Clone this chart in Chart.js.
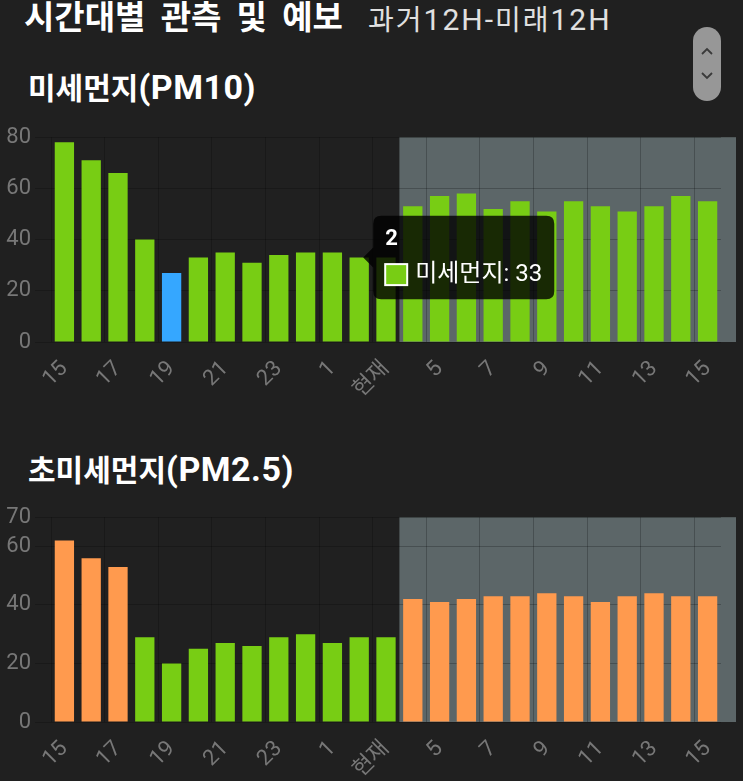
<!DOCTYPE html>
<html><head><meta charset="utf-8">
<script src="https://cdn.jsdelivr.net/npm/chart.js@4"></script>
<style>
html,body{margin:0;padding:0;background:#202020;width:743px;height:781px;overflow:hidden;font-family:Roboto,'Noto Sans CJK KR',sans-serif;}
.abs{position:absolute;white-space:nowrap;}
#title{left:24px;top:1px;font-size:33px;line-height:34px;font-weight:bold;color:#fff;word-spacing:7px;}
#range{left:368px;top:6px;font-size:28px;line-height:28px;color:#e0e0e0;letter-spacing:2px;}
#range .lat{font-size:30px;}
.sub{left:28px;font-size:30px;line-height:32px;font-weight:bold;color:#fff;}
.sub .lat{font-size:34px;letter-spacing:0.5px;}
#btn{left:693px;top:27px;width:28px;height:74px;border-radius:14px;background:#979797;}
.wrap{position:absolute;left:0;width:743px;}
</style></head>
<body>
<div class="abs" id="title">시간대별 관측 및 예보</div>
<div class="abs" id="range">과거<span class="lat">12H-</span>미래<span class="lat">12H</span></div>
<div class="abs" id="btn">
  <svg width="28" height="74" viewBox="0 0 28 74"><path d="M9 27 L14 22 L19 27" fill="none" stroke="#3a3a3a" stroke-width="1.8"/><path d="M9 46 L14 51 L19 46" fill="none" stroke="#3a3a3a" stroke-width="1.8"/></svg>
</div>
<div class="abs sub" style="top:71px">미세먼지<span class="lat">(PM10)</span></div>
<div class="abs sub" style="top:453px">초미세먼지<span class="lat">(PM2.5)</span></div>
<div class="wrap" style="top:120px;height:280px"><canvas id="c1"></canvas></div>
<div class="wrap" style="top:500px;height:281px"><canvas id="c2"></canvas></div>
<script>
// ---- data ----
const hours = ['15','16','17','18','19','20','21','22','23','0','1','2','현재','4','5','6','7','8','9','10','11','12','13','14','15'];
const pm10Values = [78,71,66,40,27,33,35,31,34,35,35,33,33,53,57,58,52,55,51,55,53,51,53,57,55];
const pm25Values = [62,56,53,29,20,25,27,26,29,30,27,29,29,42,41,42,43,43,44,43,41,43,44,43,43];
const pm10YTicks = [0,20,40,60,80];
const pm25YTicks = [0,20,40,60,70];
const pm10Levels = [30,80];   // 좋음 <=30, 보통 <=80, 나쁨
const pm25Levels = [15,35];
const seriesName = '미세먼지';
const tooltipIndex = 11;

// ---- styles ----
const BLUE = '#35a7ff', GREEN = '#78cd14', ORANGE = '#ff9a4e';
const FONT = "Roboto, 'Noto Sans CJK KR', sans-serif";
const GRID = 'rgba(0,0,0,0.22)';
const TICK = '#777777';
const forecastStart = hours.indexOf('현재') + 1;

function levelColor(levels) {
  return v => v <= levels[0] ? BLUE : (v <= levels[1] ? GREEN : ORANGE);
}

const forecastBand = {
  id: 'forecastBand',
  beforeDraw(chart) {
    const {ctx, chartArea: a, scales: {x}} = chart;
    const left = (x.getPixelForValue(forecastStart - 1) + x.getPixelForValue(forecastStart)) / 2;
    ctx.save();
    ctx.fillStyle = '#5c6668';
    ctx.fillRect(left, a.top, a.right + 15 - left, a.bottom - a.top);
    ctx.restore();
  }
};

function makeChart(id, values, yTicks, levels, withTooltip) {
  const colorOf = levelColor(levels);
  const yMax = yTicks[yTicks.length - 1];
  return new Chart(document.getElementById(id), {
    type: 'bar',
    data: {
      labels: hours,
      datasets: [{
        label: seriesName,
        data: values,
        backgroundColor: values.map(colorOf),
        hoverBackgroundColor: values.map(colorOf),
        borderWidth: 0
      }]
    },
    options: {
      responsive: true,
      maintainAspectRatio: false,
      animation: false,
      events: [],
      layout: {padding: {top: id === 'c1' ? 15 : 16, right: 22, bottom: 0, left: 0}},
      plugins: {
        legend: {display: false},
        tooltip: {
          enabled: withTooltip,
          xAlign: 'left', yAlign: 'center',
          backgroundColor: 'rgba(0,0,0,0.8)',
          titleFont: {family: FONT, size: 22, weight: 'bold', lineHeight: 1.1},
          bodyFont: {family: FONT, size: 24, lineHeight: 1.05},
          titleColor: '#fff', bodyColor: '#fff',
          padding: 12, titleMarginBottom: 10,
          caretSize: 10, caretPadding: 4, cornerRadius: 8,
          boxWidth: 22, boxHeight: 21, boxPadding: 6,
          callbacks: {
            labelColor: ctx => ({borderColor: '#fff', backgroundColor: colorOf(ctx.raw), borderWidth: 2})
          }
        }
      },
      scales: {
        x: {
          grid: {color: c => (c.index % 2 === 0 ? GRID : 'transparent'), drawTicks: false, offset: true},
          border: {display: false},
          ticks: {
            autoSkip: false, minRotation: 45, maxRotation: 45, padding: 14,
            color: TICK, font: {family: FONT, size: 22},
            callback: function(v, i) { return i % 2 === 0 ? this.getLabelForValue(v) : ''; }
          },
          afterFit: s => { s.height = id === 'c1' ? 58 : 59; }
        },
        y: {
          min: 0, max: yMax,
          grid: {color: GRID, drawTicks: true, tickLength: 16},
          border: {display: false},
          ticks: {color: TICK, font: {family: FONT, size: 22}, padding: 4},
          afterBuildTicks: s => { s.ticks = yTicks.map(v => ({value: v})); },
          afterFit: s => { s.width = 51; }
        }
      }
    },
    plugins: [forecastBand]
  });
}

const c1 = makeChart('c1', pm10Values, pm10YTicks, pm10Levels, true);
const c2 = makeChart('c2', pm25Values, pm25YTicks, pm25Levels, false);
c1.tooltip.setActiveElements([{datasetIndex: 0, index: tooltipIndex}], {x: 0, y: 0});
c1.draw();
</script>
</body></html>
